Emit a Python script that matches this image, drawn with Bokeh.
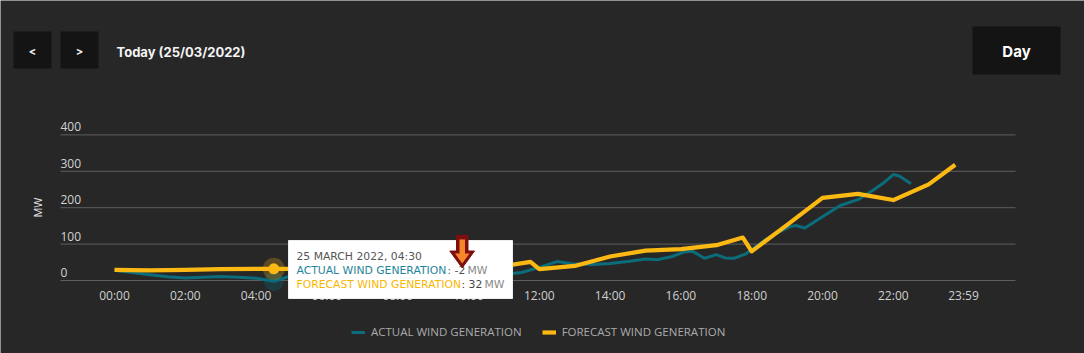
from math import pi
from bokeh.plotting import figure
from bokeh.models import Range1d, Legend, LegendItem, ColumnDataSource
from bokeh.core.properties import value
from bokeh.embed import file_html
from bokeh.resources import INLINE

# ---------------- data ----------------
actual_times = ["00:00", "00:30", "01:00", "01:30", "02:00", "02:30", "03:00", "03:30", "04:00", "04:30",
                "05:00", "05:30", "06:00", "06:30", "07:00", "07:30", "08:00", "08:30", "09:00", "09:30",
                "10:00", "10:30", "11:00", "11:30", "12:00", "12:30", "13:00", "13:30", "14:00", "14:30",
                "15:00", "15:20", "15:45", "16:05", "16:20", "16:40", "17:00", "17:15", "17:30", "17:50",
                "18:05", "18:25", "18:40", "19:05", "19:15", "19:30", "19:50", "20:30", "21:00", "21:25",
                "21:45", "22:00", "22:10", "22:30"]
actual_mw = [28, 22, 16, 10, 7, 9, 11, 9, 6, -2,
             13, 13, 12, 12, 13, 13, 14, 14, 15, 15,
             16, 17, 17, 22, 36, 52, 45, 44, 47, 52,
             59, 57, 66, 78, 80, 61, 71, 62, 61, 73,
             91, 114, 128, 148, 151, 144, 165, 206, 222, 247,
             270, 291, 287, 266]

forecast_times = ["00:00", "01:00", "02:00", "03:00", "04:00", "04:30", "05:00", "06:00", "07:00", "08:00",
                  "09:00", "10:00", "11:00", "11:45", "12:00", "13:00", "14:00", "15:00", "16:00", "17:00",
                  "17:45", "18:00", "19:00", "20:00", "21:00", "22:00", "23:00", "23:45"]
forecast_mw = [29, 28, 29, 31, 32, 32, 32, 33, 34, 35,
               36, 37, 40, 51, 31, 40, 66, 82, 86, 97,
               118, 80, 153, 227, 238, 221, 264, 318]

x_tick_labels = ["00:00", "02:00", "04:00", "06:00", "08:00", "10:00", "12:00",
                 "14:00", "16:00", "18:00", "20:00", "22:00", "23:59"]
y_ticks = [0, 100, 200, 300, 400]
y_tick_labels = ["0", "100", "200", "300", "400"]

hover_time = "04:30"
series_names = ["ACTUAL WIND GENERATION", "FORECAST WIND GENERATION"]


def to_hours(t):
    h, m = t.split(":")
    return int(h) + int(m) / 60.0


# ---------------- layout constants ----------------
W, H = 1084, 353
X0_PX, PX_PER_H = 114.0, 35.4          # pixel of 00:00, pixels per hour
Y0_PX, PX_PER_MW = 280.0, 0.364        # pixel of 0 MW, pixels per MW
BG = "#272727"
TEAL = "#0b6c7c"
YELLOW = "#fdb913"
FONT = "Open Sans"
TT_FONT = "DejaVu Sans"

p = figure(width=W, height=H,
           x_range=Range1d(-X0_PX / PX_PER_H, (W - X0_PX) / PX_PER_H),
           y_range=Range1d((Y0_PX - H) / PX_PER_MW, Y0_PX / PX_PER_MW),
           x_axis_type=None, y_axis_type=None,
           min_border=0, toolbar_location=None, output_backend="svg",
           background_fill_color=BG, border_fill_color=BG, outline_line_color=None)
p.extra_x_ranges = {"px": Range1d(0, W)}
p.extra_y_ranges = {"px": Range1d(H, 0)}

# ---------------- gridlines & tick labels ----------------
p.segment(x0=[60] * len(y_ticks), x1=[1015] * len(y_ticks), y0=y_ticks, y1=y_ticks,
          x_range_name="px", line_color="#5e5e5e", line_width=1)
p.text(x=[60] * len(y_ticks), y=y_ticks, text=y_tick_labels, x_range_name="px",
       y_offset=-8, text_align="left", text_baseline="middle",
       text_color="#d2d2d2", text_font=value(FONT), text_font_size="12px")

x_ticks = [to_hours(t) for t in x_tick_labels]
p.text(x=x_ticks, y=[295] * len(x_ticks), text=x_tick_labels, y_range_name="px",
       text_align="center", text_baseline="middle",
       text_color="#cfcfcf", text_font=value(FONT), text_font_size="12px")

p.text(x=[37], y=[207], text=["MW"], x_range_name="px", y_range_name="px", angle=pi / 2,
       text_align="center", text_baseline="middle",
       text_color="#e6e6e6", text_font=value(FONT), text_font_size="11px")

# ---------------- series ----------------
act_src = ColumnDataSource(dict(x=[to_hours(t) for t in actual_times], y=actual_mw))
fc_src = ColumnDataSource(dict(x=[to_hours(t) for t in forecast_times], y=forecast_mw))
r_act = p.line("x", "y", source=act_src, line_color=TEAL, line_width=3, line_join="round")
r_fc = p.line("x", "y", source=fc_src, line_color=YELLOW, line_width=4.2, line_join="round")

# hover markers
hx = to_hours(hover_time)
a_val = actual_mw[actual_times.index(hover_time)]
f_val = forecast_mw[forecast_times.index(hover_time)]
p.scatter([hx], [a_val], size=20, fill_color=TEAL, fill_alpha=0.3, line_color=None)
p.scatter([hx], [f_val], size=22, fill_color=YELLOW, fill_alpha=0.25, line_color=None)
p.scatter([hx], [f_val], size=11, fill_color=YELLOW, line_color=None)

# ---------------- tooltip ----------------
p.quad(left=[288], right=[512], top=[240], bottom=[298], x_range_name="px", y_range_name="px",
       fill_color="white", line_color="#eeeeee", line_width=1)
tt_size = "10.8px"


def tt_text(x, y, s, color):
    p.text(x=[x], y=[y], text=[s], x_range_name="px", y_range_name="px",
           text_baseline="middle", text_color=color, text_font=value(TT_FONT), text_font_size=tt_size)


tt_text(296, 256, "25 MARCH 2022, " + hover_time, "#555555")
tt_text(296, 270, series_names[0], "#1f859b")
tt_text(447, 270, ": %d" % a_val, "#555555")
tt_text(467, 270, "MW", "#8a8a8a")
tt_text(296, 284, series_names[1], "#f9b700")
tt_text(461, 284, ": %d" % f_val, "#444444")
tt_text(484, 284, "MW", "#8a8a8a")

# pointer arrow
p.patch(x=[456, 467.5, 467.5, 474, 461.7, 449.3, 456],
        y=[235, 235, 250.5, 250.5, 267.5, 250.5, 250.5],
        x_range_name="px", y_range_name="px", fill_color="#7e0f0f", line_color="#7e0f0f", line_width=1)
p.patch(x=[459, 464.5, 464.5, 469, 461.7, 454.5, 459],
        y=[239, 239, 253, 253, 263, 253, 253],
        x_range_name="px", y_range_name="px", fill_color="#f7862a", line_color=None)

# ---------------- header ----------------
p.quad(left=[13, 60, 972], right=[51, 98, 1060], top=[31, 31, 26], bottom=[68, 68, 74],
       x_range_name="px", y_range_name="px", fill_color="#141414", line_color=None)
p.text(x=[32, 79], y=[50, 50], text=["<", ">"], x_range_name="px", y_range_name="px",
       text_align="center", text_baseline="middle", text_color="#f0f0f0",
       text_font=value("Inter"), text_font_size="11px", text_font_style="bold")
p.text(x=[116], y=[51], text=["Today (25/03/2022)"], x_range_name="px", y_range_name="px",
       text_align="left", text_baseline="middle", text_color="#f4f4f4",
       text_font=value("Inter"), text_font_size="13px", text_font_style="bold")
p.text(x=[1016], y=[51], text=["Day"], x_range_name="px", y_range_name="px",
       text_align="center", text_baseline="middle", text_color="#ffffff",
       text_font=value("Inter"), text_font_size="15px", text_font_style="bold")

# ---------------- legend ----------------
legend = Legend(items=[LegendItem(label=series_names[0], renderers=[r_act]),
                       LegendItem(label=series_names[1], renderers=[r_fc])],
                orientation="horizontal", location=(351, 14),
                glyph_width=14, glyph_height=14, label_height=14, label_standoff=6,
                spacing=20, padding=0, margin=0,
                background_fill_alpha=0, border_line_color=None,
                label_text_color="#ababab", label_text_font=FONT, label_text_font_size="11.5px")
p.add_layout(legend)

open("out.html", "w").write(file_html(p, INLINE))
